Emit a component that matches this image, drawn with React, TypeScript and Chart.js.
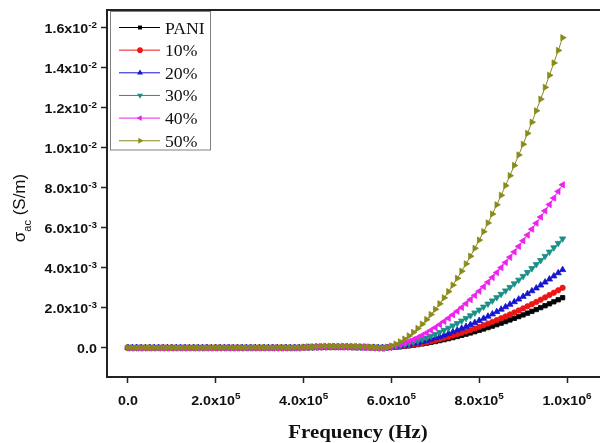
import React, { useEffect, useRef } from "react";
import { Chart, registerables } from "chart.js";

Chart.register(...registerables);

// Frequency (Hz)
const FREQ_HZ = [
  0, 10000, 20000, 30000, 40000, 50000, 60000, 70000, 80000, 90000,
  100000, 110000, 120000, 130000, 140000, 150000, 160000, 170000, 180000, 190000,
  200000, 210000, 220000, 230000, 240000, 250000, 260000, 270000, 280000, 290000,
  300000, 310000, 320000, 330000, 340000, 350000, 360000, 370000, 380000, 390000,
  400000, 410000, 420000, 430000, 440000, 450000, 460000, 470000, 480000, 490000,
  500000, 510000, 520000, 530000, 540000, 550000, 560000, 570000, 580000, 590000,
  600000, 610000, 620000, 630000, 640000, 650000, 660000, 670000, 680000, 690000,
  700000, 710000, 720000, 730000, 740000, 750000, 760000, 770000, 780000, 790000,
  800000, 810000, 820000, 830000, 840000, 850000, 860000, 870000, 880000, 890000,
  900000, 910000, 920000, 930000, 940000, 950000, 960000, 970000, 980000, 990000,
];

// sigma_ac in units of 1e-3 S/m
const SIGMA_PANI = [
  0, 0, 0, 0, 0, 0, 0, 0, 0, 0,
  0, 0, 0, 0, 0, 0, 0, 0, 0, 0,
  0, 0, 0, 0, 0, 0, 0, 0, 0, 0,
  0, 0, 0, 0, 0, 0, 0, 0, 0, 0,
  0.01, 0.01, 0.01, 0.02, 0.02, 0.02, 0.02, 0.02, 0.02, 0.02,
  0.02, 0.02, 0.01, 0.01, 0.01, 0.01, 0, 0, 0, 0.005,
  0.015, 0.029, 0.048, 0.07, 0.095, 0.124, 0.155, 0.19, 0.227, 0.267,
  0.309, 0.355, 0.402, 0.452, 0.505, 0.56, 0.617, 0.676, 0.738, 0.801,
  0.867, 0.935, 1.006, 1.078, 1.152, 1.228, 1.307, 1.387, 1.469, 1.554,
  1.64, 1.728, 1.818, 1.91, 2.004, 2.099, 2.196, 2.295, 2.396, 2.499,
];
const SIGMA_10 = [
  0, 0, 0, 0, 0, 0, 0, 0, 0, 0,
  0, 0, 0, 0, 0, 0, 0, 0, 0, 0,
  0, 0, 0, 0, 0, 0, 0, 0, 0, 0,
  0, 0, 0, 0, 0, 0, 0, 0, 0, 0,
  0.01, 0.01, 0.02, 0.02, 0.02, 0.03, 0.03, 0.03, 0.03, 0.03,
  0.03, 0.02, 0.02, 0.02, 0.01, 0.01, 0.01, 0, 0, 0.005,
  0.018, 0.035, 0.057, 0.084, 0.114, 0.148, 0.186, 0.227, 0.272, 0.32,
  0.371, 0.425, 0.482, 0.542, 0.605, 0.67, 0.739, 0.81, 0.884, 0.96,
  1.039, 1.121, 1.205, 1.291, 1.38, 1.472, 1.566, 1.662, 1.761, 1.862,
  1.965, 2.07, 2.178, 2.288, 2.4, 2.515, 2.632, 2.75, 2.871, 2.994,
];
const SIGMA_20 = [
  0, 0, 0, 0, 0, 0, 0, 0, 0, 0,
  0, 0, 0, 0, 0, 0, 0, 0, 0, 0,
  0, 0, 0, 0, 0, 0, 0, 0, 0, 0,
  0, 0, 0, 0, 0, 0, 0, 0, 0, 0,
  0.01, 0.02, 0.02, 0.03, 0.03, 0.03, 0.04, 0.04, 0.04, 0.04,
  0.04, 0.03, 0.03, 0.02, 0.02, 0.01, 0.01, 0, 0, 0.007,
  0.023, 0.046, 0.075, 0.109, 0.149, 0.193, 0.242, 0.296, 0.354, 0.416,
  0.483, 0.553, 0.627, 0.705, 0.787, 0.873, 0.962, 1.054, 1.15, 1.25,
  1.353, 1.459, 1.568, 1.681, 1.796, 1.916, 2.038, 2.163, 2.291, 2.423,
  2.557, 2.695, 2.835, 2.978, 3.124, 3.273, 3.425, 3.58, 3.737, 3.897,
];
const SIGMA_30 = [
  0, 0, 0, 0, 0, 0, 0, 0, 0, 0,
  0, 0, 0, 0, 0, 0, 0, 0, 0, 0,
  0, 0, 0, 0, 0, 0, 0, 0, 0, 0,
  0, 0, 0, 0, 0, 0, 0, 0, 0, 0,
  0.02, 0.02, 0.03, 0.03, 0.04, 0.04, 0.05, 0.05, 0.05, 0.05,
  0.05, 0.04, 0.04, 0.03, 0.02, 0.02, 0.01, 0, -0.01, 0.01,
  0.032, 0.064, 0.104, 0.152, 0.208, 0.27, 0.339, 0.414, 0.495, 0.582,
  0.675, 0.773, 0.877, 0.986, 1.101, 1.22, 1.344, 1.474, 1.608, 1.747,
  1.891, 2.04, 2.193, 2.35, 2.512, 2.679, 2.85, 3.025, 3.204, 3.388,
  3.576, 3.768, 3.964, 4.164, 4.368, 4.576, 4.789, 5.006, 5.225, 5.449,
];
const SIGMA_40 = [
  -0.02, -0.02, -0.02, -0.02, -0.02, -0.02, -0.02, -0.02, -0.02, -0.02,
  -0.02, -0.02, -0.02, -0.02, -0.02, -0.02, -0.02, -0.02, -0.02, -0.02,
  -0.02, -0.02, -0.02, -0.02, -0.02, -0.02, -0.02, -0.02, -0.02, -0.02,
  -0.02, -0.02, -0.02, -0.02, -0.02, -0.02, -0.02, -0.02, -0.02, -0.02,
  0, 0.01, 0.01, 0.02, 0.03, 0.03, 0.03, 0.03, 0.03, 0.03,
  0.03, 0.02, 0.02, 0.01, 0, -0.01, -0.02, -0.03, -0.03, 0.015,
  0.048, 0.096, 0.156, 0.228, 0.311, 0.404, 0.506, 0.619, 0.74, 0.87,
  1.009, 1.156, 1.311, 1.474, 1.645, 1.824, 2.01, 2.204, 2.404, 2.612,
  2.827, 3.049, 3.278, 3.513, 3.755, 4.005, 4.26, 4.522, 4.79, 5.065,
  5.346, 5.633, 5.926, 6.225, 6.531, 6.842, 7.159, 7.483, 7.811, 8.147,
];
const SIGMA_50 = [
  0, 0, 0, 0, 0, 0, 0, 0, 0, 0,
  0, 0, 0, 0, 0, 0, 0, 0, 0, 0,
  0.01, 0.01, 0.01, 0.01, 0.01, 0.01, 0.01, 0.01, 0.01, 0.01,
  0.01, 0.01, 0.01, 0.01, 0.01, 0.01, 0.01, 0.01, 0.01, 0.01,
  0.03, 0.04, 0.05, 0.06, 0.07, 0.08, 0.08, 0.08, 0.08, 0.08,
  0.08, 0.07, 0.07, 0.06, 0.05, 0.04, 0.02, 0.01, 0, 0.028,
  0.091, 0.182, 0.297, 0.433, 0.591, 0.768, 0.963, 1.177, 1.408, 1.656,
  1.92, 2.199, 2.495, 2.805, 3.131, 3.47, 3.824, 4.193, 4.575, 4.97,
  5.38, 5.802, 6.237, 6.685, 7.145, 7.62, 8.105, 8.603, 9.114, 9.636,
  10.171, 10.717, 11.275, 11.845, 12.426, 13.017, 13.622, 14.238, 14.863, 15.501,
];

const SERIES_LABELS = ["PANI", "10%", "20%", "30%", "40%", "50%"];
const SERIES_VALUES = [SIGMA_PANI, SIGMA_10, SIGMA_20, SIGMA_30, SIGMA_40, SIGMA_50];

const X_TICKS = [0, 200000, 400000, 600000, 800000, 1000000];
const X_TICK_BASE = ["0.0", "2.0x10", "4.0x10", "6.0x10", "8.0x10", "1.0x10"];
const X_TICK_EXP = ["", "5", "5", "5", "5", "6"];
const Y_TICKS = [0, 2, 4, 6, 8, 10, 12, 14, 16];
const Y_TICK_BASE = ["0.0", "2.0x10", "4.0x10", "6.0x10", "8.0x10", "1.0x10", "1.2x10", "1.4x10", "1.6x10"];
const Y_TICK_EXP = ["", "-3", "-3", "-3", "-3", "-2", "-2", "-2", "-2"];

const X_TITLE = "Frequency (Hz)";
const Y_TITLE_SYMBOL = "σ";
const Y_TITLE_SUB = "ac";
const Y_TITLE_UNIT = " (S/m)";

// styles
const COLORS = ["#000000", "#ee1515", "#1515d0", "#1a8f86", "#ee22ee", "#8a8a1a"];
const MARKERS = ["rect", "circle", "triangle", "triangle", "triangle", "triangle"];
const ROTATIONS = [0, 0, 0, 180, -90, 90];
const RADII = [3.1, 2.7, 3.6, 3.6, 3.6, 3.6];

const SANS = '"Liberation Sans", Arial, sans-serif';
const SERIF = '"Liberation Serif", "Times New Roman", serif';
const HS = 1.1;

function measure(ctx: CanvasRenderingContext2D, s: string, font: string, hs: number) {
  ctx.save();
  ctx.font = font;
  const w = ctx.measureText(s).width * hs;
  ctx.restore();
  return w;
}

function drawText(ctx: CanvasRenderingContext2D, s: string, x: number, y: number, font: string, hs: number) {
  ctx.save();
  ctx.font = font;
  ctx.textAlign = "left";
  ctx.textBaseline = "alphabetic";
  ctx.translate(x, y);
  ctx.scale(hs, 1);
  ctx.fillText(s, 0, 0);
  ctx.restore();
}

function drawMarker(ctx: CanvasRenderingContext2D, style: string, rot: number, x: number, y: number, r: number) {
  ctx.beginPath();
  if (style === "circle") {
    ctx.arc(x, y, r, 0, Math.PI * 2);
  } else if (style === "rect") {
    const s = r * Math.SQRT1_2;
    ctx.rect(x - s, y - s, 2 * s, 2 * s);
  } else {
    let a = (rot * Math.PI) / 180;
    for (let k = 0; k < 3; k++) {
      const px = x + Math.sin(a) * r;
      const py = y - Math.cos(a) * r;
      if (k === 0) ctx.moveTo(px, py);
      else ctx.lineTo(px, py);
      a += (2 * Math.PI) / 3;
    }
  }
  ctx.closePath();
  ctx.fill();
}

const decorPlugin = {
  id: "decor",
  afterDraw(chart: any) {
    const ctx: CanvasRenderingContext2D = chart.ctx;
    const ca = chart.chartArea;
    const xs = chart.scales.x;
    const ys = chart.scales.y;
    ctx.save();

    // top frame line
    ctx.strokeStyle = "#222";
    ctx.lineWidth = 2;
    ctx.beginPath();
    ctx.moveTo(ca.left - 1, ca.top);
    ctx.lineTo(ca.right, ca.top);
    ctx.stroke();

    ctx.fillStyle = "#111";
    const baseFont = `bold 13px ${SANS}`;
    const expFont = `bold 9px ${SANS}`;

    // y tick labels
    const RX = 97;
    Y_TICKS.forEach((v, i) => {
      const py = ys.getPixelForValue(v);
      const b = Y_TICK_BASE[i];
      const e = Y_TICK_EXP[i];
      const we = e ? measure(ctx, e, expFont, HS) : 0;
      const wb = measure(ctx, b, baseFont, HS);
      drawText(ctx, b, RX - we - wb, py + 5, baseFont, HS);
      if (e) drawText(ctx, e, RX - we, py + 0.5, expFont, HS);
    });

    // x tick labels
    X_TICKS.forEach((v, i) => {
      const px = xs.getPixelForValue(v);
      const b = X_TICK_BASE[i];
      const e = X_TICK_EXP[i];
      const we = e ? measure(ctx, e, expFont, HS) : 0;
      const wb = measure(ctx, b, baseFont, HS);
      const start = px - (wb + we) / 2;
      drawText(ctx, b, start, 405, baseFont, HS);
      if (e) drawText(ctx, e, start + wb, 399, expFont, HS);
    });

    // x title
    const xtFont = `bold 19px ${SERIF}`;
    const wt = measure(ctx, X_TITLE, xtFont, HS);
    drawText(ctx, X_TITLE, 358 - wt / 2, 438, xtFont, HS);

    // y title (rotated)
    const yFont = `17px ${SANS}`;
    const ySubFont = `11px ${SANS}`;
    const w1 = measure(ctx, Y_TITLE_SYMBOL, yFont, 1);
    const w2 = measure(ctx, Y_TITLE_SUB, ySubFont, 1);
    const w3 = measure(ctx, Y_TITLE_UNIT, yFont, 1);
    ctx.save();
    ctx.translate(25, 208);
    ctx.rotate(-Math.PI / 2);
    let sx = -(w1 + w2 + w3) / 2;
    drawText(ctx, Y_TITLE_SYMBOL, sx, 0, yFont, 1);
    sx += w1;
    drawText(ctx, Y_TITLE_SUB, sx, 6, ySubFont, 1);
    sx += w2;
    drawText(ctx, Y_TITLE_UNIT, sx, 0, yFont, 1);
    ctx.restore();

    // legend
    ctx.strokeStyle = "#808080";
    ctx.lineWidth = 1;
    ctx.strokeRect(110.5, 11.5, 100, 138.5);
    const legFont = `17px ${SERIF}`;
    chart.data.datasets.forEach((ds: any, i: number) => {
      const ly = 27.5 + i * 22.65;
      ctx.strokeStyle = COLORS[i];
      ctx.lineWidth = 1;
      ctx.beginPath();
      ctx.moveTo(119, ly);
      ctx.lineTo(160, ly);
      ctx.stroke();
      ctx.fillStyle = COLORS[i];
      drawMarker(ctx, MARKERS[i], ROTATIONS[i], 140, ly, MARKERS[i] === "triangle" ? 3.4 : 2.8);
      ctx.fillStyle = "#111";
      drawText(ctx, ds.label, 165, ly + 6, legFont, 1.04);
    });

    ctx.restore();
  },
};

export default function App() {
  const ref = useRef<HTMLCanvasElement | null>(null);

  useEffect(() => {
    if (!ref.current) return;
    const datasets = SERIES_LABELS.map((label, i) => ({
      label,
      data: FREQ_HZ.map((f, j) => ({ x: f, y: SERIES_VALUES[i][j] })),
      borderColor: COLORS[i],
      backgroundColor: COLORS[i],
      pointBackgroundColor: COLORS[i],
      pointBorderColor: COLORS[i],
      pointBorderWidth: 0.8,
      borderWidth: 1,
      pointStyle: MARKERS[i],
      pointRotation: ROTATIONS[i],
      pointRadius: RADII[i],
      tension: 0,
      order: SERIES_LABELS.length - i,
    }));

    const chart = new Chart(ref.current, {
      type: "line",
      data: { datasets } as any,
      options: {
        responsive: false,
        animation: false,
        devicePixelRatio: 1,
        events: [],
        layout: { padding: { left: 0, right: 8, top: 10, bottom: 0 } },
        plugins: { legend: { display: false }, tooltip: { enabled: false } },
        scales: {
          x: {
            type: "linear",
            min: -47800,
            max: 1102500,
            afterBuildTicks: (s: any) => {
              s.ticks = X_TICKS.map((v) => ({ value: v }));
            },
            afterFit: (s: any) => {
              s.height = 66;
            },
            ticks: { display: false },
            grid: { drawOnChartArea: false, drawTicks: true, tickLength: 6, tickColor: "#222", tickWidth: 1.5 },
            border: { display: true, color: "#222", width: 2 },
          },
          y: {
            type: "linear",
            min: -1.465,
            max: 16.885,
            afterBuildTicks: (s: any) => {
              s.ticks = Y_TICKS.map((v) => ({ value: v }));
            },
            afterFit: (s: any) => {
              s.width = 107;
            },
            ticks: { display: false },
            grid: { drawOnChartArea: false, drawTicks: true, tickLength: 6, tickColor: "#222", tickWidth: 1.5 },
            border: { display: true, color: "#222", width: 2 },
          },
        },
      } as any,
      plugins: [decorPlugin],
    });
    return () => chart.destroy();
  }, []);

  return (
    <div style={{ position: "fixed", left: 0, top: 0, width: 600, height: 443, overflow: "hidden", background: "#fff" }}>
      <canvas ref={ref} width={620} height={443} style={{ display: "block", width: 620, height: 443 }} />
    </div>
  );
}
